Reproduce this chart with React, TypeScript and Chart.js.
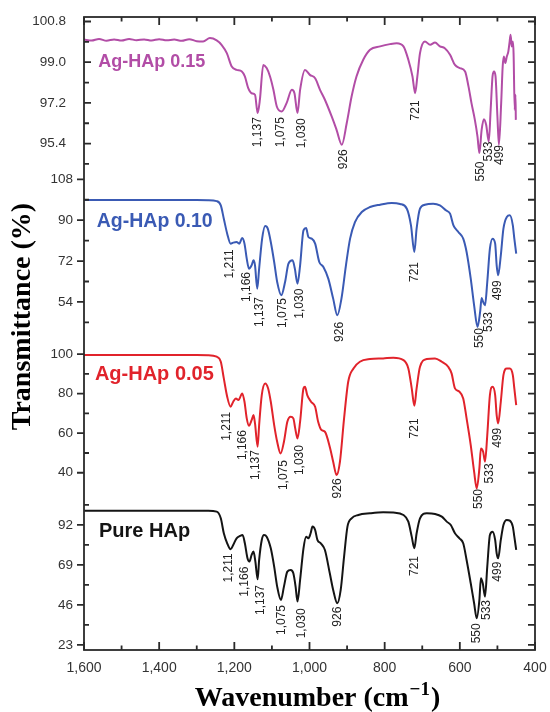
import { useEffect, useRef } from 'react';
import { Chart, registerables } from 'chart.js';

Chart.register(...registerables);

// ---------------- data ----------------
// Ag-HAp 0.15
const WN_015 = [1600,1580,1560,1540,1520,1500,1480,1460,1440,1420,1400,1380,1360,1340,1320,1300,1283,1265,1247,1234,1220,1207,1194,1180,1172,1163,1154,1145,1138,1132,1123,1114,1105,1096,1087,1074,1061,1047,1040,1032,1025,1012,999,985,972,959,941,928,914,901,888,875,857,839,812,786,768,750,737,726,719,713,706,693,679,666,653,640,626,613,600,586,577,569,560,553,548,542,536,530,523,518,513,509,505,500,496,490,486,483,479,475,471,468,465,462,459,457,454,452,451];
const T_015 = [100.00,99.96,100.03,99.95,100.01,99.96,100.03,99.97,100.01,99.96,100.02,99.97,100.00,99.95,100.02,99.93,99.92,100.07,99.97,99.77,99.40,98.81,98.66,98.59,98.37,97.85,97.63,97.56,96.75,97.34,98.88,98.74,98.37,97.78,97.04,96.82,97.19,97.78,97.63,96.75,97.78,98.66,98.44,98.29,97.78,97.34,96.60,96.01,95.35,96.30,97.48,98.37,99.11,99.55,99.70,99.80,99.84,99.70,99.11,98.37,97.63,98.37,99.40,99.92,99.77,99.87,99.70,99.62,99.33,98.88,98.74,98.59,97.93,97.19,96.45,95.71,94.98,96.01,96.48,96.23,95.49,96.89,98.37,98.59,98.37,96.60,95.35,97.19,98.81,99.25,98.96,99.25,99.47,99.84,100.21,99.70,99.92,99.40,96.89,97.56,96.45];

// Ag-HAp 0.10
const WN_010 = [1600,1550,1500,1450,1400,1350,1300,1270,1247,1236,1228,1219,1210,1203,1194,1187,1179,1173,1167,1161,1154,1149,1145,1139,1134,1126,1118,1111,1103,1094,1086,1075,1065,1056,1045,1039,1032,1025,1016,1009,1003,994,985,974,963,950,937,926,915,903,892,879,861,839,812,781,759,741,730,721,715,706,693,671,653,637,626,617,604,591,582,571,562,553,546,542,538,533,527,520,513,506,502,498,491,484,475,467,459,455,450];
const T_010 = [98.90,98.92,98.88,98.93,98.90,98.87,98.85,98.80,98.40,96.54,90.67,84.07,79.67,80.11,80.40,79.67,82.16,79.67,73.06,68.66,70.13,72.33,70.13,59.86,68.66,81.87,87.44,86.27,80.40,71.60,62.79,56.93,62.79,70.86,72.33,68.66,62.06,70.13,85.54,86.56,82.60,81.87,79.67,71.60,69.40,64.26,55.46,48.12,55.46,70.13,81.87,89.20,93.60,95.80,96.83,97.57,97.13,95.07,87.74,75.99,86.27,95.07,96.83,97.27,96.54,94.34,92.87,87.74,84.80,81.87,75.99,64.26,52.52,42.99,49.59,55.75,53.99,52.52,62.79,77.47,81.87,79.67,70.13,65.73,74.53,86.27,91.40,92.14,87.74,81.87,75.27];

// Ag-HAp 0.05
const WN_005 = [1600,1550,1500,1450,1400,1350,1300,1270,1247,1236,1228,1219,1210,1203,1196,1189,1179,1173,1167,1161,1154,1149,1145,1138,1134,1127,1118,1110,1103,1094,1086,1077,1068,1059,1050,1043,1038,1032,1025,1016,1012,1006,996,985,977,968,959,945,937,928,919,908,897,883,866,839,804,777,750,737,728,721,715,706,688,666,648,631,622,613,601,591,582,571,562,555,548,544,538,533,527,520,513,506,502,498,491,484,475,467,459,455,450];
const T_005 = [99.50,99.55,99.48,99.52,99.50,99.47,99.50,99.45,98.65,96.12,87.70,78.43,73.37,75.90,77.59,76.74,80.11,75.90,67.48,63.77,66.63,69.16,64.95,53.16,64.11,79.27,85.17,82.64,75.90,64.11,55.68,49.79,55.68,65.79,68.32,67.48,62.42,57.37,65.79,82.64,83.48,79.27,75.90,73.37,65.79,61.58,60.74,52.31,45.57,38.83,45.57,67.48,86.01,92.75,96.12,97.47,97.81,98.14,96.96,92.75,82.64,73.88,82.64,93.59,97.47,97.81,96.12,93.59,90.22,82.64,80.96,77.59,67.48,54.00,40.52,32.10,42.20,52.31,50.63,45.57,59.05,79.27,83.48,79.27,69.16,64.95,75.90,89.38,92.75,92.75,89.38,82.64,74.22];

// Pure HAp
const WN_PURE = [1600,1550,1500,1450,1400,1350,1300,1270,1247,1236,1228,1219,1210,1203,1194,1185,1178,1172,1165,1160,1154,1149,1144,1138,1134,1127,1121,1114,1103,1094,1086,1076,1068,1059,1050,1043,1037,1032,1025,1016,1009,1003,997,992,985,979,970,959,946,937,926,917,908,899,888,870,839,804,777,750,737,728,721,715,706,688,666,648,635,624,613,601,591,582,571,562,555,548,544,539,533,527,520,513,506,502,498,491,484,475,467,459,455,450];
const T_PURE = [100.20,100.22,100.18,100.23,100.20,100.17,100.22,100.20,99.67,95.84,87.21,81.46,78.01,80.50,84.34,85.68,86.25,81.46,72.83,70.92,74.75,76.67,70.92,60.76,71.88,83.38,86.25,85.29,78.59,68.04,56.54,48.87,56.54,65.17,66.13,64.21,56.54,47.92,60.38,78.59,85.29,84.34,87.21,91.05,89.13,83.38,81.46,77.63,64.21,54.63,46.96,54.63,73.79,91.05,95.84,97.75,98.71,99.29,99.10,97.75,93.92,85.29,78.59,87.21,95.84,98.71,98.33,96.80,93.92,92.00,87.21,84.34,81.46,71.88,58.46,46.96,38.33,48.87,61.33,58.46,50.79,68.04,86.25,88.17,83.38,75.71,72.83,83.38,92.00,94.88,94.50,91.05,85.29,77.63];

// tick values
const X_MAJOR = [1600, 1400, 1200, 1000, 800, 600, 400];
const X_MINOR = [1500, 1300, 1100, 900, 700, 500];
const Y_TICKS_015 = [100.8, 99.0, 97.2, 95.4];
const Y_MINOR_015 = [99.9, 98.1, 96.3, 94.5];
const Y_TICKS_010 = [108, 90, 72, 54];
const Y_MINOR_010 = [99, 81, 63, 45];
const Y_TICKS_005 = [100, 80, 60, 40];
const Y_MINOR_005 = [90, 70, 50];
const Y_TICKS_PURE = [92, 69, 46, 23];
const Y_MINOR_PURE = [103.5, 80.5, 57.5, 34.5];

// axis ranges
const Y_RANGE_015 = [94.0, 101.0];
const Y_RANGE_010 = [40.1, 109.8];
const Y_RANGE_005 = [30.4, 110.4];
const Y_RANGE_PURE = [20.1, 111.1];

// peak annotations: text, wavenumber, transmittance at the top of the label
const PEAK_TEXT_015 = ['1,137', '1,075', '1,030', '926', '721', '550', '533', '499'];
const PEAK_WN_015 = [1139, 1076, 1020, 908, 717, 545, 522, 493];
const PEAK_TOP_015 = [96.57, 96.57, 96.52, 95.15, 97.31, 94.61, 95.49, 95.34];

const PEAK_TEXT = ['1,211', '1,166', '1,137', '1,075', '1,030', '926', '721', '550', '533', '499'];
const PEAK_WN_010 = [1213, 1167, 1132, 1071, 1025, 921, 719, 548, 524, 498];
const PEAK_TOP_010 = [77.17, 67.2, 56.19, 55.75, 59.86, 45.19, 71.6, 42.5, 49.59, 63.53];
const PEAK_WN_005 = [1220, 1178, 1142, 1070, 1027, 926, 719, 551, 521, 499];
const PEAK_TOP_005 = [70.85, 61.58, 51.47, 46.41, 54.0, 37.15, 67.48, 31.8, 44.73, 62.76];
const PEAK_WN_PURE = [1216, 1173, 1130, 1074, 1021, 926, 719, 555, 529, 498];
const PEAK_TOP_PURE = [75.71, 68.04, 57.5, 46.0, 44.08, 45.04, 74.18, 35.46, 48.88, 70.92];

// ---------------- styling / layout ----------------
const SANS = '"Liberation Sans", Arial, Helvetica, sans-serif';
const SERIF = '"Liberation Serif", "Times New Roman", Times, serif';

type Panel = {
  axis: string; name: string; wn: number[]; t: number[]; color: string;
  range: number[]; ticks: number[]; minor: number[]; decimals: number; tickPad: number;
  majorOut: boolean;
  labelSize: number; labelWn: number; labelT: number;
  peakText: string[]; peakWn: number[]; peakTop: number[];
};

// order: bottom panel first (Chart.js stacks later-defined axes on top)
const PANELS: Panel[] = [
  { axis: 'yPure', name: 'Pure HAp', wn: WN_PURE, t: T_PURE, color: '#141414', range: Y_RANGE_PURE, ticks: Y_TICKS_PURE, minor: Y_MINOR_PURE, decimals: 0, tickPad: 11, majorOut: true, labelSize: 20, labelWn: 1560, labelT: 85.27, peakText: PEAK_TEXT, peakWn: PEAK_WN_PURE, peakTop: PEAK_TOP_PURE },
  { axis: 'y005', name: 'Ag-HAp 0.05', wn: WN_005, t: T_005, color: '#E1232B', range: Y_RANGE_005, ticks: Y_TICKS_005, minor: Y_MINOR_005, decimals: 0, tickPad: 11, majorOut: true, labelSize: 20, labelWn: 1571, labelT: 86.86, peakText: PEAK_TEXT, peakWn: PEAK_WN_005, peakTop: PEAK_TOP_005 },
  { axis: 'y010', name: 'Ag-HAp 0.10', wn: WN_010, t: T_010, color: '#3A5AB4', range: Y_RANGE_010, ticks: Y_TICKS_010, minor: Y_MINOR_010, decimals: 0, tickPad: 11, majorOut: true, labelSize: 19.5, labelWn: 1566, labelT: 87.14, peakText: PEAK_TEXT, peakWn: PEAK_WN_010, peakTop: PEAK_TOP_010 },
  { axis: 'y015', name: 'Ag-HAp 0.15', wn: WN_015, t: T_015, color: '#B24DA6', range: Y_RANGE_015, ticks: Y_TICKS_015, minor: Y_MINOR_015, decimals: 1, tickPad: 18, majorOut: false, labelSize: 18, labelWn: 1562, labelT: 98.81, peakText: PEAK_TEXT_015, peakWn: PEAK_WN_015, peakTop: PEAK_TOP_015 },
];

const decoPlugin = {
  id: 'ftirDeco',
  afterDraw(chart: any) {
    const { ctx, chartArea: a } = chart;
    const xs = chart.scales.x;
    ctx.save();
    // frame
    ctx.strokeStyle = '#2a2a2a';
    ctx.lineWidth = 1.8;
    ctx.strokeRect(a.left, a.top, a.right - a.left, a.bottom - a.top);
    ctx.beginPath();
    X_MAJOR.forEach((v) => {
      const px = xs.getPixelForValue(v);
      ctx.moveTo(px, a.top); ctx.lineTo(px, a.top + 8);
      ctx.moveTo(px, a.bottom); ctx.lineTo(px, a.bottom - 8);
    });
    X_MINOR.forEach((v) => {
      const px = xs.getPixelForValue(v);
      ctx.moveTo(px, a.top); ctx.lineTo(px, a.top + 4.5);
      ctx.moveTo(px, a.bottom); ctx.lineTo(px, a.bottom - 4.5);
    });
    PANELS.forEach((p) => {
      const ys = chart.scales[p.axis];
      p.ticks.forEach((v) => {
        const py = ys.getPixelForValue(v);
        ctx.moveTo(a.left, py); ctx.lineTo(a.left + (p.majorOut ? -7 : 7), py);
        ctx.moveTo(a.right, py); ctx.lineTo(a.right - 7, py);
      });
      p.minor.forEach((v) => {
        const py = ys.getPixelForValue(v);
        ctx.moveTo(a.left, py); ctx.lineTo(a.left + 5, py);
        ctx.moveTo(a.right, py); ctx.lineTo(a.right - 7, py);
      });
    });
    ctx.stroke();

    // peak labels
    ctx.fillStyle = '#222';
    ctx.font = `12px ${SANS}`;
    ctx.textAlign = 'right';
    ctx.textBaseline = 'middle';
    PANELS.forEach((p) => {
      const ys = chart.scales[p.axis];
      p.peakText.forEach((txt, i) => {
        const px = xs.getPixelForValue(p.peakWn[i]);
        const py = ys.getPixelForValue(p.peakTop[i]);
        ctx.save();
        ctx.translate(px, py);
        ctx.rotate(-Math.PI / 2);
        ctx.fillText(txt, 0, 0);
        ctx.restore();
      });
    });

    // series names
    ctx.textAlign = 'left';
    ctx.textBaseline = 'alphabetic';
    PANELS.forEach((p) => {
      const ys = chart.scales[p.axis];
      ctx.fillStyle = p.color;
      ctx.font = `bold ${p.labelSize}px ${SANS}`;
      ctx.fillText(p.name, xs.getPixelForValue(p.labelWn), ys.getPixelForValue(p.labelT));
    });

    // axis titles
    ctx.fillStyle = '#000';
    ctx.font = `bold 28px ${SERIF}`;
    ctx.save();
    ctx.translate(30, (a.top + a.bottom) / 2 - 17);
    ctx.rotate(-Math.PI / 2);
    ctx.textAlign = 'center';
    ctx.fillText('Transmittance (%)', 0, 0);
    ctx.restore();

    const main = 'Wavenumber (cm';
    const sup = '\u22121';
    const close = ')';
    ctx.font = `bold 28px ${SERIF}`;
    const wMain = ctx.measureText(main).width;
    const wClose = ctx.measureText(close).width;
    ctx.font = `bold 19px ${SERIF}`;
    const wSup = ctx.measureText(sup).width;
    const cx = (a.left + a.right) / 2 + 7;
    let x0 = cx - (wMain + wSup + wClose) / 2;
    const base = 706;
    ctx.textAlign = 'left';
    ctx.font = `bold 28px ${SERIF}`;
    ctx.fillText(main, x0, base);
    x0 += wMain;
    ctx.font = `bold 19px ${SERIF}`;
    ctx.fillText(sup, x0 + 1, base - 11);
    x0 += wSup + 2;
    ctx.font = `bold 28px ${SERIF}`;
    ctx.fillText(close, x0, base);
    ctx.restore();
  },
};

export default function App() {
  const ref = useRef<HTMLCanvasElement>(null);
  useEffect(() => {
    document.body.style.margin = '0';
    const scales: any = {
      x: {
        type: 'linear',
        position: 'bottom',
        reverse: true,
        min: 400,
        max: 1600,
        afterBuildTicks: (ax: any) => { ax.ticks = X_MAJOR.map((v) => ({ value: v })); },
        afterFit: (ax: any) => { ax.height = 62; ax.paddingLeft = 0; ax.paddingRight = 0; },
        ticks: {
          callback: (v: any) => Number(v).toLocaleString('en-US'),
          font: { family: SANS, size: 14 },
          color: '#333',
          padding: 10,
          maxRotation: 0,
          autoSkip: false,
        },
        grid: { display: false, drawTicks: false },
        border: { display: false },
      },
    };
    PANELS.forEach((p) => {
      scales[p.axis] = {
        type: 'linear',
        position: 'left',
        stack: 'ftir',
        stackWeight: 1,
        min: p.range[0],
        max: p.range[1],
        afterBuildTicks: (ax: any) => { ax.ticks = p.ticks.map((v) => ({ value: v })); },
        afterFit: (ax: any) => { ax.width = 84; ax.paddingTop = 0; ax.paddingBottom = 0; },
        ticks: {
          callback: (v: any) => Number(v).toFixed(p.decimals),
          font: { family: SANS, size: 13.5 },
          color: '#333',
          padding: p.tickPad,
          autoSkip: false,
        },
        grid: { display: false, drawTicks: false },
        border: { display: false },
      };
    });
    const chart = new Chart(ref.current as HTMLCanvasElement, {
      type: 'line',
      data: {
        datasets: PANELS.map((p) => ({
          label: p.name,
          data: p.wn.map((w, i) => ({ x: w, y: p.t[i] })),
          yAxisID: p.axis,
          borderColor: p.color,
          borderWidth: 2,
          pointRadius: 0,
          cubicInterpolationMode: 'monotone' as const,
          fill: false,
        })),
      },
      options: {
        responsive: false,
        animation: false,
        events: [],
        layout: { padding: { left: 0, right: 15, top: 17, bottom: 0 } },
        plugins: { legend: { display: false }, tooltip: { enabled: false } },
        scales,
      },
      plugins: [decoPlugin],
    });
    return () => chart.destroy();
  }, []);
  return <canvas ref={ref} width={550} height={712} style={{ display: 'block' }} />;
}
